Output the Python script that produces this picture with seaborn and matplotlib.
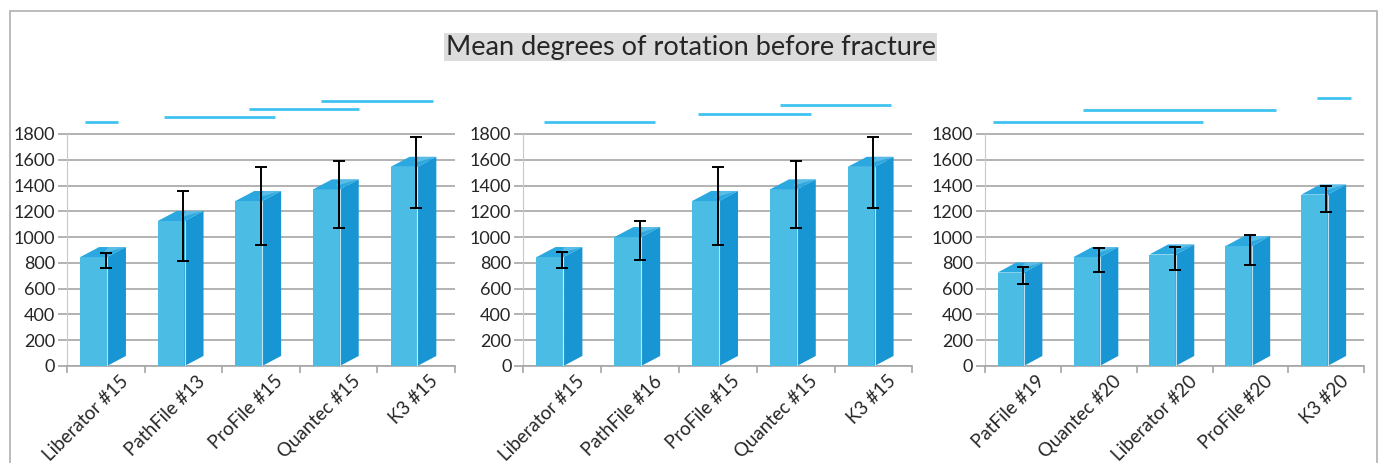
import numpy as np
import pandas as pd
import matplotlib
matplotlib.use('Agg')
import matplotlib.pyplot as plt
import seaborn as sns
from matplotlib.patches import Polygon, Rectangle
from matplotlib.transforms import ScaledTranslation

# file systems shown in each panel
files_a = ['Liberator #15', 'PathFile #13', 'ProFile #15', 'Quantec #15', 'K3 #15']
files_b = ['Liberator #15', 'PathFile #16', 'ProFile #15', 'Quantec #15', 'K3 #15']
files_c = ['PatFile #19', 'Quantec #20', 'Liberator #20', 'ProFile #20', 'K3 #20']

# mean degrees of rotation (bar heights)
mean_a = [845, 1125, 1280, 1370, 1545]
mean_b = [845, 1000, 1280, 1370, 1545]
mean_c = [725, 845, 865, 930, 1330]

# error bar ends
err_lo_a = [758, 814, 936, 1070, 1226]
err_hi_a = [879, 1357, 1546, 1590, 1777]
err_lo_b = [763, 825, 939, 1070, 1226]
err_hi_b = [882, 1125, 1544, 1590, 1777]
err_lo_c = [639, 727, 747, 784, 1197]
err_hi_c = [768, 913, 926, 1016, 1397]

# significance lines above the bars (category units, level)
sig_start_a = [-0.27, 0.75, 1.85, 2.77]
sig_end_a = [0.16, 2.18, 3.26, 4.22]
sig_level_a = [1895, 1932, 1996, 2053]
sig_start_b = [-0.24, 1.75, 2.80]
sig_end_b = [1.19, 3.20, 4.23]
sig_level_b = [1895, 1952, 2027]
sig_start_c = [-0.39, 0.79, 3.88]
sig_end_c = [2.37, 3.34, 4.33]
sig_level_c = [1890, 1989, 2076]

y_ticks = [0, 200, 400, 600, 800, 1000, 1200, 1400, 1600, 1800]

FRONT = '#4bbde4'
SIDE = '#1896d3'
TOP = '#2aa8df'
TOP_LIGHT = '#7ccbec'
GRID = '#a6a6a6'
SIG = '#3fc3f0'
DX, DY = 0.245, 78

sns.set_style('white')
plt.rcParams['font.family'] = ['Lato', 'DejaVu Sans']

fig = plt.figure(figsize=(13.81, 4.63), dpi=100)
W, H = 1381, 463


def draw_panel(ax, files, means, lo, hi, s0, s1, lvl):
    df = pd.DataFrame({'file': files, 'mean': means})
    sns.barplot(data=df, x='file', y='mean', ax=ax, color=FRONT, width=0.345,
                saturation=1, edgecolor='none', linewidth=0, zorder=3)
    for p in list(ax.patches):
        p.set_x(p.get_x() - 0.158)
        x0, x1 = p.get_x(), p.get_x() + p.get_width()
        h = p.get_height()
        ax.add_patch(Polygon([(x1, 0), (x1 + DX, DY), (x1 + DX, h + DY), (x1, h)],
                             closed=True, fc=SIDE, ec='none', zorder=3))
        ax.add_patch(Polygon([(x0, h), (x1, h), (x1 + DX, h + DY), (x0 + DX, h + DY)],
                             closed=True, fc=TOP, ec='none', zorder=3))
        # lighter back-right corner of the top face
        ax.add_patch(Polygon([(x1 - 0.05, h + DY * 0.35), (x1 + DX, h + DY),
                              (x0 + DX + 0.12, h + DY)],
                             closed=True, fc=TOP_LIGHT, ec='none', alpha=0.6, zorder=3))
        ax.plot([x1, x1], [0, h], color='white', lw=0.8, alpha=0.7, zorder=4)

    xs = np.arange(len(files))
    lo = np.array(lo)
    hi = np.array(hi)
    mid = (lo + hi) / 2
    ax.errorbar(xs, mid, yerr=[mid - lo, hi - mid], fmt='none', ecolor='black',
                elinewidth=1.4, capsize=4, capthick=1.4, zorder=5)

    for a, b, y in zip(s0, s1, lvl):
        ax.plot([a, b], [y, y], color=SIG, lw=2, solid_capstyle='butt', zorder=5)

    ax.set_xlim(-0.5, len(files) - 0.5)
    ax.set_ylim(0, 2150)
    ax.set_yticks(y_ticks)
    ax.set_xlabel('')
    ax.set_ylabel('')
    ax.set_axisbelow(True)
    ax.yaxis.grid(True, color=GRID, lw=1.2)
    ax.xaxis.grid(False)
    for s in ['top', 'right']:
        ax.spines[s].set_visible(False)
    ax.spines['left'].set_bounds(0, 1800)
    ax.spines['left'].set_color('#c8c8c8')
    ax.spines['bottom'].set_color(GRID)
    ax.spines['bottom'].set_linewidth(1.2)

    ax.tick_params(axis='y', length=6.5, color=GRID, width=1.2, labelsize=13, pad=2,
                   left=True)
    ax.set_xticks(np.arange(-0.5, len(files), 1.0), minor=True)
    ax.tick_params(axis='x', which='minor', length=5, color=GRID, width=1.2, bottom=True)
    ax.tick_params(axis='x', which='major', length=0, labelsize=13.5, pad=9)
    ax.set_xticks(xs)
    ax.set_xticklabels(files, rotation=45, ha='right', va='center', rotation_mode='anchor')
    off = ScaledTranslation(14 / 72, 0, fig.dpi_scale_trans)
    for lbl in ax.get_xticklabels():
        lbl.set_transform(lbl.get_transform() + off)


ax_h = 2150 * (232 / 1800) / H
bottom = (H - 366) / H
ax1 = fig.add_axes([67 / W, bottom, 388 / W, ax_h])
ax2 = fig.add_axes([523.3 / W, bottom, 389 / W, ax_h])
ax3 = fig.add_axes([984.7 / W, bottom, 379.7 / W, ax_h])

draw_panel(ax1, files_a, mean_a, err_lo_a, err_hi_a, sig_start_a, sig_end_a, sig_level_a)
draw_panel(ax2, files_b, mean_b, err_lo_b, err_hi_b, sig_start_b, sig_end_b, sig_level_b)
draw_panel(ax3, files_c, mean_c, err_lo_c, err_hi_c, sig_start_c, sig_end_c, sig_level_c)

fig.text(0.5, 1 - 47 / H, 'Mean degrees of rotation before fracture', ha='center',
         va='center', fontsize=19.5,
         bbox=dict(boxstyle='square,pad=0.05', fc='#dcdcdc', ec='none'))

fig.add_artist(Rectangle((10 / W, -0.1), (1377 - 10) / W, 1.1 - 11 / H,
                         transform=fig.transFigure, fill=False, ec='#b0b0b0', lw=1.2))

fig.savefig('out.png', dpi=100)
